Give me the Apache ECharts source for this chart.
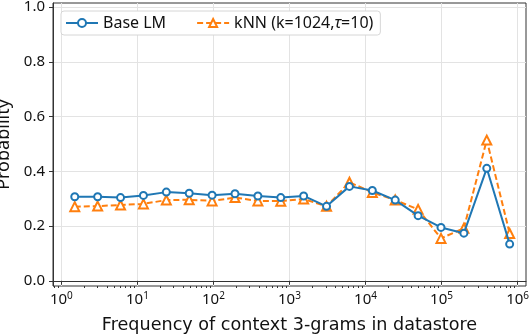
<!DOCTYPE html>
<html>
<head>
<meta charset="utf-8">
<script src="https://cdn.jsdelivr.net/npm/echarts@6/dist/echarts.min.js"></script>
<style>
  html, body { margin: 0; padding: 0; background: #fff; }
  #main { width: 530px; height: 334px; }
</style>
</head>
<body>
<div id="main"></div>
<script>
// frequency bins (x, log scale) and the two probability curves
const freq = [1.5, 3, 6, 12, 24, 48, 96, 192, 384, 768, 1536, 3072, 6144, 12288, 24576, 49152, 98304, 196608, 393216, 786432];
const baseLM = [0.307, 0.307, 0.304, 0.312, 0.324, 0.320, 0.313, 0.318, 0.310, 0.304, 0.310, 0.272, 0.345, 0.330, 0.295, 0.238, 0.195, 0.174, 0.411, 0.134];
const knn = [0.271, 0.273, 0.277, 0.281, 0.295, 0.296, 0.292, 0.304, 0.292, 0.291, 0.299, 0.272, 0.360, 0.323, 0.295, 0.261, 0.155, 0.192, 0.514, 0.173];

const xMajorTicks = [1, 10, 100, 1000, 10000, 100000, 1000000];
const yTicks = [0, 0.2, 0.4, 0.6, 0.8, 1.0];

const names = ['Base LM', 'kNN (k=1024,τ=10)'];
const FONT = '"Noto Sans", sans-serif';
const WIDE = '"DejaVu Sans", sans-serif';

// minor ticks 2..9 x 10^k (plus 0.8, 0.9 below 10^0)
const xMinorTicks = [0.8, 0.9];
for (let k = 0; k < 6; k++) {
    for (let m = 2; m <= 9; m++) {
        xMinorTicks.push(m * Math.pow(10, k));
    }
}

const myChart = echarts.init(document.getElementById('main'));

function pairs(ys) {
    return freq.map((x, i) => [x, ys[i]]);
}

const xCommon = {
    type: 'log',
    logBase: 10,
    min: 0.776,
    max: 1.29e6,
    position: 'bottom'
};

let option = {
    animation: false,
    textStyle: { fontFamily: FONT },
    grid: {
        left: 53,
        right: 4,
        top: 3,
        bottom: 48,
        show: true,
        borderColor: '#333',
        borderWidth: 1,
        outerBoundsMode: 'none'
    },
    legend: {
        left: 61,
        top: 11,
        padding: [4, 7, 4, 4],
        itemWidth: 32,
        itemHeight: 10,
        itemGap: 30,
        backgroundColor: '#fff',
        borderColor: '#d6d6d6',
        borderWidth: 1,
        borderRadius: 3,
        data: names,
        formatter: function (name) {
            return name.replace('τ', '{i|τ}');
        },
        textStyle: {
            fontFamily: FONT,
            fontSize: 16,
            color: '#111',
            rich: {
                i: { fontFamily: FONT, fontSize: 16, fontStyle: 'italic', color: '#111' }
            }
        }
    },
    xAxis: [
        Object.assign({}, xCommon, {
            name: 'Frequency of context 3-grams in datastore',
            nameLocation: 'middle',
            nameGap: 30,
            nameTextStyle: { fontFamily: WIDE, fontSize: 17.6, color: '#111' },
            axisLine: { show: true, lineStyle: { color: '#333', width: 1 } },
            axisTick: { show: true, length: 4, lineStyle: { color: '#333' }, customValues: xMajorTicks },
            axisLabel: {
                customValues: xMajorTicks,
                margin: 5,
                color: '#111',
                formatter: function (v) {
                    const e = Math.round(Math.log10(v));
                    return '{b|10}{s|' + e + '}';
                },
                rich: {
                    b: { fontFamily: FONT, fontSize: 15, color: '#111' },
                    s: { fontFamily: FONT, fontSize: 10, color: '#111', padding: [0, 0, 8, 0] }
                }
            },
            splitLine: { show: true, lineStyle: { color: '#e3e3e3', width: 1 } }
        }),
        Object.assign({}, xCommon, {
            axisLine: { show: false },
            axisTick: { show: true, length: 2, lineStyle: { color: '#333' }, customValues: xMinorTicks },
            axisLabel: { show: false },
            splitLine: { show: false }
        })
    ],
    yAxis: {
        type: 'value',
        min: -0.019,
        max: 1.015,
        name: 'Probability',
        nameLocation: 'middle',
        nameGap: 33,
        nameTextStyle: { fontFamily: FONT, fontSize: 18, color: '#111' },
        axisLine: { show: true, lineStyle: { color: '#333', width: 1 } },
        axisTick: { show: true, length: 4, lineStyle: { color: '#333' }, customValues: yTicks },
        axisLabel: {
            customValues: yTicks,
            margin: 8,
            fontFamily: FONT,
            fontSize: 15,
            color: '#111',
            formatter: v => v.toFixed(1)
        },
        splitLine: { show: true, lineStyle: { color: '#e3e3e3', width: 1 } }
    },
    series: [
        {
            name: names[0],
            type: 'line',
            xAxisIndex: 0,
            data: pairs(baseLM),
            symbol: 'emptyCircle',
            symbolSize: 7,
            color: '#1f77b4',
            lineStyle: { width: 2, color: '#1f77b4' },
            itemStyle: { color: '#1f77b4', borderColor: '#1f77b4', borderWidth: 1.5 },
            z: 3
        },
        {
            name: names[1],
            type: 'line',
            xAxisIndex: 0,
            data: pairs(knn),
            symbol: 'emptyTriangle',
            symbolSize: 9,
            color: '#ff7f0e',
            lineStyle: { width: 2, color: '#ff7f0e', type: [6, 3] },
            itemStyle: { color: '#ff7f0e', borderColor: '#ff7f0e', borderWidth: 1.5 },
            z: 2
        }
    ]
};

option && myChart.setOption(option);
</script>
</body>
</html>
